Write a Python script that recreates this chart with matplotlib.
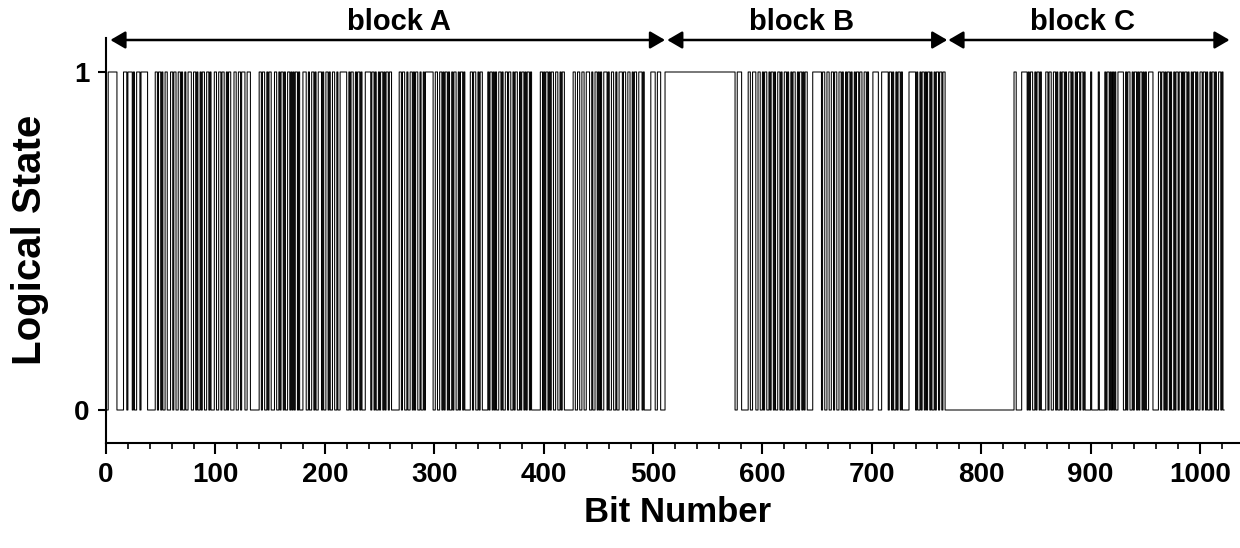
import numpy as np
import matplotlib
matplotlib.use("Agg")
import matplotlib.pyplot as plt

# ---- data: logical state per bit (groups of 10 bits) ----
bit_rows = [
    "0011111111 0000001110 1111010011 1011111100 0000011011 0100110001 1011001101 0010011100 1101001011 0011010001",
    "1001101100 1011000110 0110111001 1100000000 1101100101 1000110010 1101001101 0101101000 1110010011 0100111010",
    "0110100110 0100111111 0010110010 1101000111 1101101001 0110101101 1000000011 0110010011 0101100100 1011111110",
    "0110011010 1101001011 0010110100 0001101100 1011000001 0110101001 1010011011 0010110010 1101011010 0000000110",
    "1011010110 0110010110 0000000110 0110011001 1100100110 1010011101 0011001001 1101100110 0101100111 0100000011",
    "1100111000 0111111111 1111111111 1111111111 1111111111 1111111111 1111111111 1111100111 1000000110 0111001100",
    "1011001011 0100110100 1101001011 0010110101 1000001111 1111011001 1001101100 1101001011 0100101101 1001101000",
    "0111110001 1111101101 0010110100 0000111111 0100101101 0110100101 1011011000 0000000000 0000000000 0000000000",
    "0000000000 0000000000 0000000000 1100000111 1101011001 0110100001 1011001101 0010110100 1101001011 0110100000",
    "1000000100 0001011010 1010011111 0010110010 1101011010 1001111000 0011011010 1101001011 0110101101 0010110100",
    "1101101001 0110100110 10",
]
bits = [int(c) for row in bit_rows for c in row if c in "01"]

block_names = ["block A", "block B", "block C"]
block_arrow_start = [4, 513, 770]
block_arrow_end = [511, 769, 1027]
block_label_x = [268, 636, 893]

x_ticks_major = [0, 100, 200, 300, 400, 500, 600, 700, 800, 900, 1000]
y_ticks = [0, 1]

plt.rcParams['font.family'] = ['Liberation Sans', 'DejaVu Sans']
plt.rcParams['font.weight'] = 'bold'

PX0 = 106.0     # pixel of bit 0
PXB = 1.094     # pixels per bit

fig = plt.figure(figsize=(12.4, 5.48), dpi=100)
ax = fig.add_axes([PX0/1240, 105/548, (1240-PX0)/1240, (443-38)/548])

xs = np.arange(len(bits) + 1)
ys = np.array(bits + [bits[-1]])
ax.step(xs, ys, where='post', color='black', lw=0.75)

ax.set_xlim(0, (1240-PX0)/PXB)
ax.set_ylim(-(443-410)/338, (410-38)/338)

for s in ['top', 'right']:
    ax.spines[s].set_visible(False)
for s in ['left', 'bottom']:
    ax.spines[s].set_linewidth(1.5)

ax.set_xticks(x_ticks_major)
ax.set_xticks(np.arange(0, 1031, 20), minor=True)
ax.set_yticks(y_ticks)
ax.tick_params(axis='x', which='major', direction='out', length=8, width=1.5, labelsize=20, pad=6)
ax.tick_params(axis='x', which='minor', direction='out', length=4, width=1.2)
ax.tick_params(axis='y', which='major', direction='out', length=6, width=1.5, labelsize=20, pad=6)
for lab in ax.get_xticklabels() + ax.get_yticklabels():
    lab.set_fontweight('bold')

y_arrow = (410-40)/338
y_text = (410-22)/338
for name, a, b, tx in zip(block_names, block_arrow_start, block_arrow_end, block_label_x):
    ax.annotate('', xy=(b, y_arrow), xytext=(a, y_arrow), xycoords='data',
                arrowprops=dict(arrowstyle='<|-|>,head_length=0.6,head_width=0.35',
                                mutation_scale=15, lw=1.8, color='black',
                                shrinkA=0, shrinkB=0), annotation_clip=False)
    ax.text(tx, y_text, name, ha='center', va='center', fontsize=21, fontweight='bold',
            clip_on=False)

fig.text(678/1240, 1 - 513/548, 'Bit Number', ha='center', va='center', fontsize=25, fontweight='bold')
fig.text(30/1240, 1 - 240/548, 'Logical State', ha='center', va='center', rotation=90,
         fontsize=29, fontweight='bold')

fig.savefig('out.png', dpi=100)
